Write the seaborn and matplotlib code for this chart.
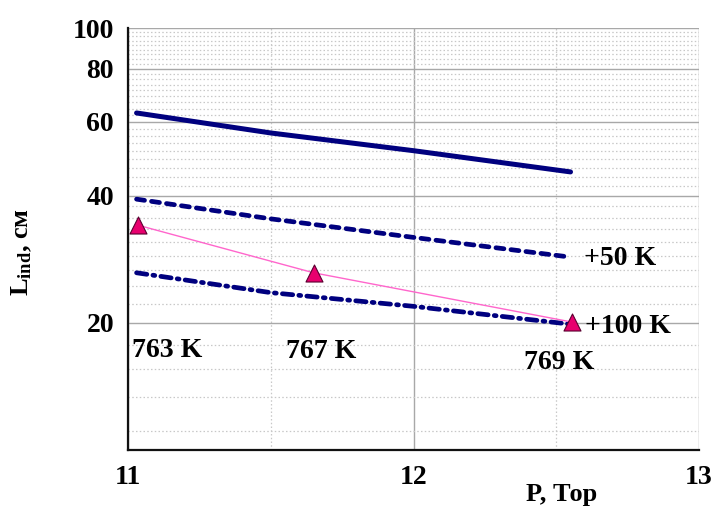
import numpy as np
import pandas as pd
import matplotlib
matplotlib.use("Agg")
import matplotlib.pyplot as plt
import seaborn as sns
from matplotlib.ticker import FixedLocator, FixedFormatter, NullFormatter

# ---- data ----
solid_x = [11.03, 11.5, 12.0, 12.55]
solid_y = [62.9, 56.4, 51.2, 45.6]
dashed_x = [11.03, 11.5, 12.0, 12.54]
dashed_y = [39.3, 35.3, 31.9, 28.7]
dashdot_x = [11.03, 11.5, 12.0, 12.54]
dashdot_y = [26.3, 23.6, 21.9, 19.9]
tri_x = [11.035, 11.65, 12.555]
tri_y = [34.1, 26.3, 20.1]

temp_labels = ["763 K", "767 K", "769 K"]
temp_pos_x = [11.014, 11.553, 12.387]
temp_pos_y = [17.2, 17.1, 16.1]
shift_labels = ["+50 K", "+100 K"]
shift_pos_x = [12.597, 12.601]
shift_pos_y = [28.5, 19.6]

x_ticks = [11, 12, 13]
x_minor = [11.5, 12.5]
y_ticks = [20, 40, 60, 80, 100]
y_ticklabels = ["20", "40", "60", "80", "100"]

navy = "#00007f"
pink_line = "#ff66cc"
pink_marker = "#e8006e"

sns.set_style("white")
plt.rcParams["font.family"] = ["Liberation Serif", "DejaVu Serif"]
plt.rcParams["font.weight"] = "bold"
plt.rcParams["text.color"] = "black"
plt.rcParams["xtick.color"] = "black"
plt.rcParams["ytick.color"] = "black"
plt.rcParams["mathtext.fontset"] = "custom"
plt.rcParams["mathtext.rm"] = "Liberation Serif"
plt.rcParams["mathtext.bf"] = "Liberation Serif:bold"
plt.rcParams["mathtext.it"] = "Liberation Serif:italic"

fig = plt.figure(figsize=(7.13, 5.08), dpi=100)
ax = fig.add_axes([128 / 713, (508 - 450) / 508, (699 - 128) / 713, (450 - 28) / 508])

ax.set_yscale("log")
ax.set_xlim(11, 13)
ax.set_ylim(10, 100)

# grids
minor_y = [20 + k * 20 / 9 for k in range(-4, 37) if k % 9 != 0]
minor_y = [v for v in minor_y if 10 < v < 100]
ax.yaxis.set_major_locator(FixedLocator(y_ticks))
ax.yaxis.set_major_formatter(FixedFormatter(y_ticklabels))
ax.yaxis.set_minor_locator(FixedLocator(minor_y))
ax.yaxis.set_minor_formatter(NullFormatter())
ax.xaxis.set_major_locator(FixedLocator(x_ticks))
ax.xaxis.set_minor_locator(FixedLocator(x_minor))

ax.grid(which="major", color="#a8a8a8", lw=1.0, ls="-")
ax.grid(which="minor", color="#c8c8c8", lw=0.9, ls=(0, (1.2, 1.8)))
ax.xaxis.grid(True, which="minor", color="#c8c8c8", lw=0.9, ls=(0, (1.2, 1.8)))
ax.set_axisbelow(True)

# lines
df_solid = pd.DataFrame({"x": solid_x, "y": solid_y})
df_dash = pd.DataFrame({"x": dashed_x, "y": dashed_y})
df_dd = pd.DataFrame({"x": dashdot_x, "y": dashdot_y})
df_tri = pd.DataFrame({"x": tri_x, "y": tri_y})

sns.lineplot(data=df_solid, x="x", y="y", ax=ax, color=navy, lw=3.6,
             sort=False, estimator=None, legend=False, solid_capstyle="round")
sns.lineplot(data=df_dash, x="x", y="y", ax=ax, color=navy, lw=3.4,
             sort=False, estimator=None, legend=False, dashes=False)
ax.lines[-1].set_linestyle((0, (1.7, 1.5)))
ax.lines[-1].set_dash_capstyle("round")
sns.lineplot(data=df_dd, x="x", y="y", ax=ax, color=navy, lw=3.4,
             sort=False, estimator=None, legend=False, dashes=False)
ax.lines[-1].set_linestyle((0, (2.2, 1.3, 0.4, 1.3)))
ax.lines[-1].set_dash_capstyle("round")
sns.lineplot(data=df_tri, x="x", y="y", ax=ax, color=pink_line, lw=1.0,
             sort=False, estimator=None, legend=False)
sns.scatterplot(data=df_tri, x="x", y="y", ax=ax, marker="^", s=150,
                color=pink_marker, edgecolor="#5a0030", linewidth=0.8,
                legend=False, zorder=5, clip_on=False)

# annotations
for lab, xx, yy in zip(temp_labels, temp_pos_x, temp_pos_y):
    ax.text(xx, yy, lab, ha="left", va="center", fontsize=20,
            fontweight="bold", color="black")
for lab, xx, yy in zip(shift_labels, shift_pos_x, shift_pos_y):
    ax.text(xx, yy, lab, ha="left", va="center", fontsize=20,
            fontweight="bold", color="black")

# spines / ticks
for s in ["top", "right"]:
    ax.spines[s].set_visible(False)
for s in ["left", "bottom"]:
    ax.spines[s].set_color("#111111")
    ax.spines[s].set_linewidth(1.6)

ax.tick_params(axis="y", which="major", direction="out", length=7, width=1.6,
               color="#111111", labelsize=20, pad=3, labelcolor="black")
ax.tick_params(axis="y", which="minor", direction="out", length=4, width=1.4,
               color="#111111")
ax.tick_params(axis="x", which="major", direction="out", length=6, width=1.6,
               color="#111111", labelsize=20, pad=5, labelcolor="black")
ax.tick_params(axis="x", which="minor", direction="out", length=4.5, width=1.4,
               color="#111111")
for lbl in ax.get_xticklabels() + ax.get_yticklabels():
    lbl.set_fontweight("bold")

ax.set_xlabel("")
ax.set_ylabel("")
fig.text(562 / 713, 1 - 495 / 508, "P, Тор", ha="center", va="center",
         fontsize=19, fontweight="bold", color="black")
fig.text(22 / 713, 1 - 252 / 508, r"$\mathbf{L}_{\mathbf{ind}}$, см", ha="center",
         va="center", rotation=90, fontsize=19, fontweight="bold", color="black")

fig.savefig("out.png", dpi=100)
